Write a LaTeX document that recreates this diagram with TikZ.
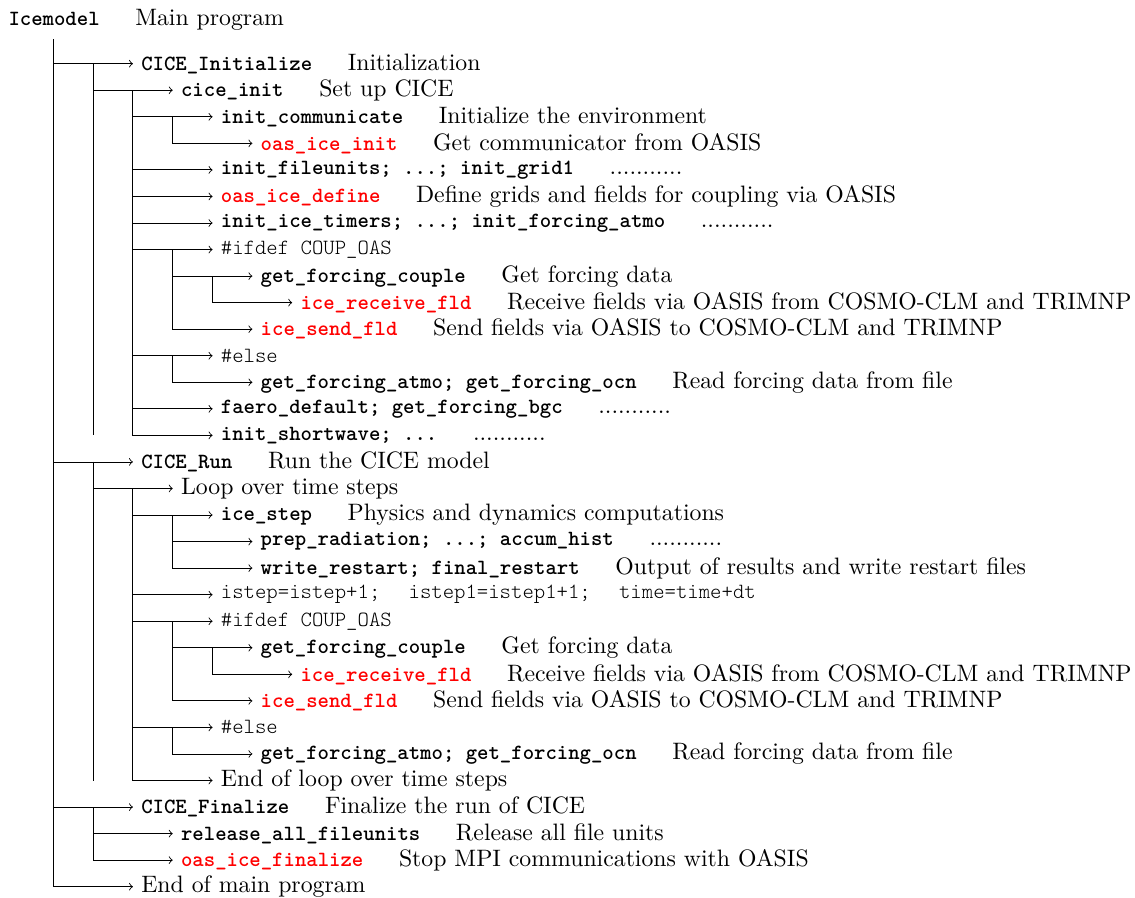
\documentclass[tikz,border=0pt,11pt]{standalone}
\usepackage{fontspec}
\usetikzlibrary{calc}

\newcommand{\rtn}[1]{{\small\ttfamily\bfseries #1}}
\newcommand{\rtnred}[1]{{\small\ttfamily\bfseries\color{red}#1}}
\newcommand{\cpp}[1]{{\small\ttfamily\fontseries{l}\selectfont #1}}
\newcommand{\tsep}{\hspace{1.5em}}

\begin{document}
\begin{tikzpicture}[lbl/.style={anchor=west}, >=to]

% parameters %{{{1

	\def\dx{0.645}
	\def\dy{0.43}

% bounding box %{{{1

	\useasboundingbox (-0.863,1.032) rectangle (17.521,-13.497);

% nodes %{{{1

	\coordinate (O) at (0,0);

	\node[lbl] (top) at (-0.86,0.705) {\rtn{Icemodel}\tsep Main program};

	% initialize
	\node[lbl] (ini) at ({2*\dx},{-0*\dy}) {\rtn{CICE\_Initialize}\tsep Initialization};
	\node[lbl] (cinit) at ({3*\dx},{-1*\dy}) {\rtn{cice\_init}\tsep Set up CICE};
	\node[lbl] (comm) at ({4*\dx},{-2*\dy}) {\rtn{init\_communicate}\tsep Initialize the environment};
	\node[lbl] (oasinit) at ({5*\dx},{-3*\dy}) {\rtnred{oas\_ice\_init}\tsep Get communicator from OASIS};
	\node[lbl] (fileu) at ({4*\dx},{-4*\dy}) {\rtn{init\_fileunits; ...; init\_grid1}\tsep ...........};
	\node[lbl] (oasdef) at ({4*\dx},{-5*\dy}) {\rtnred{oas\_ice\_define}\tsep Define grids and fields for coupling via OASIS};
	\node[lbl] (timers) at ({4*\dx},{-6*\dy}) {\rtn{init\_ice\_timers; ...; init\_forcing\_atmo}\tsep ...........};
	\node[lbl] (ifdefa) at ({4*\dx},{-7*\dy}) {\cpp{\#ifdef COUP\_OAS}};
	\node[lbl] (couplea) at ({5*\dx},{-8*\dy}) {\rtn{get\_forcing\_couple}\tsep Get forcing data};
	\node[lbl] (recva) at ({6*\dx},{-9*\dy}) {\rtnred{ice\_receive\_fld}\tsep Receive fields via OASIS from COSMO-CLM and TRIMNP};
	\node[lbl] (senda) at ({5*\dx},{-10*\dy}) {\rtnred{ice\_send\_fld}\tsep Send fields via OASIS to COSMO-CLM and TRIMNP};
	\node[lbl] (elsea) at ({4*\dx},{-11*\dy}) {\cpp{\#else}};
	\node[lbl] (atmoa) at ({5*\dx},{-12*\dy}) {\rtn{get\_forcing\_atmo; get\_forcing\_ocn}\tsep Read forcing data from file};
	\node[lbl] (faero) at ({4*\dx},{-13*\dy}) {\rtn{faero\_default; get\_forcing\_bgc}\tsep ...........};
	\node[lbl] (shortw) at ({4*\dx},{-14*\dy}) {\rtn{init\_shortwave; ...}\tsep ...........};

	% run
	\node[lbl] (run) at ({2*\dx},{-15*\dy}) {\rtn{CICE\_Run}\tsep Run the CICE model};
	\node[lbl] (loop) at ({3*\dx},{-16*\dy}) {Loop over time steps};
	\node[lbl] (step) at ({4*\dx},{-17*\dy}) {\rtn{ice\_step}\tsep Physics and dynamics computations};
	\node[lbl] (prep) at ({5*\dx},{-18*\dy}) {\rtn{prep\_radiation; ...; accum\_hist}\tsep ...........};
	\node[lbl] (restart) at ({5*\dx},{-19*\dy}) {\rtn{write\_restart; final\_restart}\tsep Output of results and write restart files};
	\node[lbl] (istep) at ({4*\dx},{-20*\dy}) {\cpp{istep=istep+1;\hspace{1.3em}istep1=istep1+1;\hspace{1.3em}time=time+dt}};
	\node[lbl] (ifdefb) at ({4*\dx},{-21*\dy}) {\cpp{\#ifdef COUP\_OAS}};
	\node[lbl] (coupleb) at ({5*\dx},{-22*\dy}) {\rtn{get\_forcing\_couple}\tsep Get forcing data};
	\node[lbl] (recvb) at ({6*\dx},{-23*\dy}) {\rtnred{ice\_receive\_fld}\tsep Receive fields via OASIS from COSMO-CLM and TRIMNP};
	\node[lbl] (sendb) at ({5*\dx},{-24*\dy}) {\rtnred{ice\_send\_fld}\tsep Send fields via OASIS to COSMO-CLM and TRIMNP};
	\node[lbl] (elseb) at ({4*\dx},{-25*\dy}) {\cpp{\#else}};
	\node[lbl] (atmob) at ({5*\dx},{-26*\dy}) {\rtn{get\_forcing\_atmo; get\_forcing\_ocn}\tsep Read forcing data from file};
	\node[lbl] (endloop) at ({4*\dx},{-27*\dy}) {End of loop over time steps};

	% finalize
	\node[lbl] (fin) at ({2*\dx},{-28*\dy}) {\rtn{CICE\_Finalize}\tsep Finalize the run of CICE};
	\node[lbl] (release) at ({3*\dx},{-29*\dy}) {\rtn{release\_all\_fileunits}\tsep Release all file units};
	\node[lbl] (oasfin) at ({3*\dx},{-30*\dy}) {\rtnred{oas\_ice\_finalize}\tsep Stop MPI communications with OASIS};
	\node[lbl] (endmain) at ({2*\dx},{-31*\dy}) {End of main program};

% trunks %{{{1

	\coordinate (top-t) at (O |- top.south);
	\coordinate (ini-t) at ($(ini.west)+(-\dx,0)$);
	\coordinate (cinit-t) at ($(cinit.west)+(-\dx,0)$);
	\coordinate (comm-t) at ($(comm.west)+(-\dx,0)$);
	\coordinate (ifdefa-t) at ($(ifdefa.west)+(-\dx,0)$);
	\coordinate (couplea-t) at ($(couplea.west)+(-\dx,0)$);
	\coordinate (elsea-t) at ($(elsea.west)+(-\dx,0)$);
	\coordinate (run-t) at ($(run.west)+(-\dx,0)$);
	\coordinate (loop-t) at ($(loop.west)+(-\dx,0)$);
	\coordinate (step-t) at ($(step.west)+(-\dx,0)$);
	\coordinate (ifdefb-t) at ($(ifdefb.west)+(-\dx,0)$);
	\coordinate (coupleb-t) at ($(coupleb.west)+(-\dx,0)$);
	\coordinate (elseb-t) at ($(elseb.west)+(-\dx,0)$);
	\coordinate (fin-t) at ($(fin.west)+(-\dx,0)$);

% lines %{{{1

	\draw[->] (top-t) |- (ini);
	\draw[->] (top-t) |- (run);
	\draw[->] (top-t) |- (fin);
	\draw[->] (top-t) |- (endmain);

	\draw[->] (ini-t) |- (cinit);
	\draw (ini-t) -- (ini-t |- shortw.west);

	\draw[->] (cinit-t) |- (comm);
	\draw[->] (cinit-t) |- (fileu);
	\draw[->] (cinit-t) |- (oasdef);
	\draw[->] (cinit-t) |- (timers);
	\draw[->] (cinit-t) |- (ifdefa);
	\draw[->] (cinit-t) |- (elsea);
	\draw[->] (cinit-t) |- (faero);
	\draw[->] (cinit-t) |- (shortw);

	\draw[->] (comm-t) |- (oasinit);
	\draw[->] (ifdefa-t) |- (couplea);
	\draw[->] (ifdefa-t) |- (senda);
	\draw[->] (couplea-t) |- (recva);
	\draw[->] (elsea-t) |- (atmoa);

	\draw[->] (run-t) |- (loop);
	\draw (run-t) -- (run-t |- endloop.west);

	\draw[->] (loop-t) |- (step);
	\draw[->] (loop-t) |- (istep);
	\draw[->] (loop-t) |- (ifdefb);
	\draw[->] (loop-t) |- (elseb);
	\draw[->] (loop-t) |- (endloop);

	\draw[->] (step-t) |- (prep);
	\draw[->] (step-t) |- (restart);
	\draw[->] (ifdefb-t) |- (coupleb);
	\draw[->] (ifdefb-t) |- (sendb);
	\draw[->] (coupleb-t) |- (recvb);
	\draw[->] (elseb-t) |- (atmob);

	\draw[->] (fin-t) |- (release);
	\draw[->] (fin-t) |- (oasfin);

% closing %{{{1

\end{tikzpicture}
\end{document}
